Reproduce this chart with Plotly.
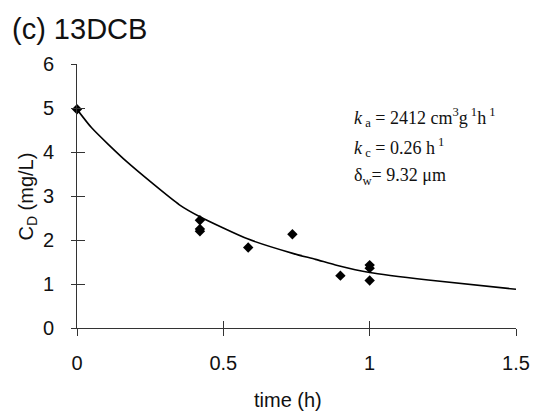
import plotly.graph_objects as go

# Observed data
obs_t = [0.0, 0.42, 0.42, 0.42, 0.585, 0.736, 0.90, 1.0, 1.0, 1.0]
obs_c = [4.97, 2.45, 2.25, 2.20, 1.83, 2.13, 1.19, 1.43, 1.36, 1.08]

# Model curve
fit_t = [0.0, 0.05, 0.17, 0.35, 0.42, 0.585, 0.74, 0.815, 0.89, 1.0, 1.2, 1.5]
fit_c = [4.97, 4.55, 3.78, 2.80, 2.53, 2.02, 1.69, 1.56, 1.42, 1.26, 1.09, 0.88]

x_ticks = [0, 0.5, 1, 1.5]
x_ticklabels = ["0", "0.5", "1", "1.5"]
y_ticks = [0, 1, 2, 3, 4, 5, 6]

W, H = 542, 412
L, R, T, B = 77, 21, 64, 84
PW, PH = W - L - R, H - T - B

def px(xp):
    return (xp - L) / PW

def py(yp):
    return (H - B - yp) / PH

fig = go.Figure()
fig.add_trace(go.Scatter(x=fit_t, y=fit_c, mode="lines",
                         line=dict(color="black", width=1.6, shape="spline", smoothing=0.6),
                         showlegend=False))
fig.add_trace(go.Scatter(x=obs_t, y=obs_c, mode="markers",
                         marker=dict(symbol="diamond", size=8, color="black"),
                         showlegend=False, cliponaxis=False))
# invisible trace so the overlay axes (inner half of the crossing ticks) are drawn
fig.add_trace(go.Scatter(x=fit_t, y=fit_c, xaxis="x2", yaxis="y2", mode="lines",
                         line=dict(width=0), opacity=0, hoverinfo="skip",
                         showlegend=False))

axfont = dict(family="Liberation Sans, Arial, sans-serif", size=20, color="#111")
common_x = dict(range=[0, 1.5], tickvals=x_ticks, ticktext=x_ticklabels,
                showgrid=False, zeroline=False, showline=True, linecolor="#333",
                linewidth=1, tickcolor="#333", tickwidth=1)
common_y = dict(range=[0, 6], tickvals=y_ticks, showgrid=False, zeroline=False,
                showline=True, linecolor="#333", linewidth=1, tickcolor="#333", tickwidth=1)

fig.update_layout(
    width=W, height=H,
    margin=dict(l=L, r=R, t=T, b=B, pad=0),
    paper_bgcolor="white", plot_bgcolor="white",
    xaxis=dict(**common_x, ticks="outside", ticklen=7, tickfont=axfont,
               ticklabelstandoff=10),
    yaxis=dict(**common_y, ticks="outside", ticklen=5, tickfont=axfont,
               ticklabelstandoff=13),
    xaxis2=dict(**common_x, overlaying="x", anchor="y2", side="bottom",
                ticks="inside", ticklen=7, showticklabels=False),
    yaxis2=dict(**common_y, overlaying="y", anchor="x2", side="left",
                ticks="inside", ticklen=8, showticklabels=False),
    title=dict(text="(c) 13DCB", x=12 / W, xanchor="left", xref="container",
               y=1 - 29 / H, yanchor="middle", yref="container",
               font=dict(family="Liberation Sans, Arial, sans-serif", size=29, color="#111")),
)

ann_font = dict(family="Liberation Serif, Times New Roman, serif", size=18, color="#111")
fig.add_annotation(text="<i>k</i><sub> a</sub> = 2412 cm<sup>3</sup>g<sup> 1</sup>h<sup> 1</sup>",
                   xref="paper", yref="paper", x=px(355), y=py(117),
                   xanchor="left", yanchor="middle", showarrow=False, font=ann_font)
fig.add_annotation(text="<i>k</i><sub> c</sub> = 0.26 h<sup> 1</sup>",
                   xref="paper", yref="paper", x=px(355), y=py(147),
                   xanchor="left", yanchor="middle", showarrow=False, font=ann_font)
fig.add_annotation(text="δ<sub>w</sub>= 9.32 μm",
                   xref="paper", yref="paper", x=px(355), y=py(176),
                   xanchor="left", yanchor="middle", showarrow=False, font=ann_font)

# axis titles
fig.add_annotation(text="time (h)", xref="paper", yref="paper",
                   x=px(290), y=py(400), xanchor="center", yanchor="middle",
                   showarrow=False, font=axfont)
fig.add_annotation(text="C<sub>D</sub> (mg/L)", xref="paper", yref="paper",
                   x=px(26), y=py(197), xanchor="center", yanchor="middle",
                   textangle=-90, showarrow=False, font=axfont)

fig.write_html("out.html")
